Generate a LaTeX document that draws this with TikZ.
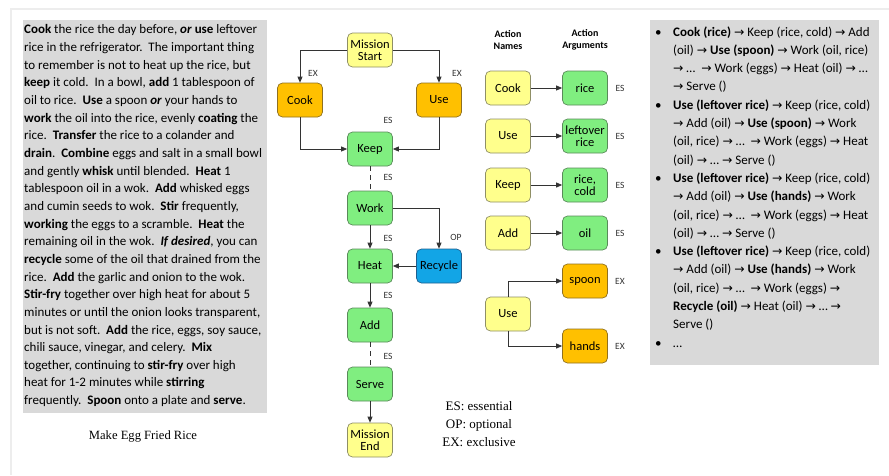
\documentclass[tikz,border=0pt]{standalone}
\usepackage{fontspec}
\setmainfont{Carlito}
\newfontfamily\serifface{Liberation Serif}
\newfontfamily\arrowface{DejaVu Sans}[Scale=0.95]
\usetikzlibrary{arrows.meta}

\definecolor{panelgray}{HTML}{D9D9D9}
\definecolor{nodeyellow}{HTML}{FFFF8C}
\definecolor{yellowedge}{HTML}{8F8F66}
\definecolor{nodeorange}{HTML}{FFC000}
\definecolor{orangeedge}{HTML}{8F7020}
\definecolor{nodegreen}{HTML}{80EE80}
\definecolor{greenedge}{HTML}{5A8A5A}
\definecolor{nodeblue}{HTML}{12A5E6}
\definecolor{blueedge}{HTML}{1F5F8F}

\newcommand\ra{{\arrowface\char"2192}}
\newcommand\bul{\makebox[18pt][l]{\textbullet}}
\newcommand\ind{\hspace*{18pt}}
\newcommand\gap{\ \ }

\begin{document}
\begin{tikzpicture}[x=1pt,y=-1pt,
  box/.style={rounded corners=5pt, minimum width=45pt, minimum height=34pt,
    inner sep=1pt, align=center, font=\fontsize{12.5}{13.5}\selectfont, line width=0.7pt},
  yel/.style={box, fill=nodeyellow, draw=yellowedge},
  org/.style={box, fill=nodeorange, draw=orangeedge},
  grn/.style={box, fill=nodegreen, draw=greenedge},
  blu/.style={box, fill=nodeblue, draw=blueedge},
  link/.style={line width=0.8pt, draw=black!80},
  arr/.style={link, -{Triangle[length=6pt,width=5pt]}},
  dashlink/.style={link, dash pattern=on 5pt off 4pt},
  tag/.style={font=\fontsize{9.5}{10}\selectfont, text=black!80, inner sep=0},
  head/.style={font=\bfseries\fontsize{10}{11.5}\selectfont, align=center, inner sep=0}
]
\useasboundingbox (0,0) rectangle (889,475);

% page edge shadow
\draw[black!7, line width=2pt] (11,475) -- (11,9) -- (889,9);

% ---- recipe text panel (anchored on the baseline of its last line) ----
\fill[panelgray] (23,20) rectangle (267,413);
\node[anchor=base west, align=left, inner sep=0,
      font=\fontsize{13}{17.65}\selectfont] (recipe) at (24,404.6) {%
\textbf{Cook} the rice the day before, \textbf{\textit{or}} \textbf{use} leftover\\
rice in the refrigerator.\gap The important thing\\
to remember is not to heat up the rice, but\\
\textbf{keep} it cold.\gap In a bowl, \textbf{add} 1 tablespoon of\\
oil to rice.\gap \textbf{Use} a spoon \textbf{\textit{or}} your hands to\\
\textbf{work} the oil into the rice, evenly \textbf{coating} the\\
rice.\gap \textbf{Transfer} the rice to a colander and\\
\textbf{drain}.\gap \textbf{Combine} eggs and salt in a small bowl\\
and gently \textbf{whisk} until blended.\gap \textbf{Heat} 1\\
tablespoon oil in a wok.\gap \textbf{Add} whisked eggs\\
and cumin seeds to wok.\gap \textbf{Stir} frequently,\\
\textbf{working} the eggs to a scramble.\gap \textbf{Heat} the\\
remaining oil in the wok.\gap \textbf{\textit{If desired}}, you can\\
\textbf{recycle} some of the oil that drained from the\\
rice.\gap \textbf{Add} the garlic and onion to the wok.\\
\textbf{Stir-fry} together over high heat for about 5\\
minutes or until the onion looks transparent,\\
but is not soft.\gap \textbf{Add} the rice, eggs, soy sauce,\\
chili sauce, vinegar, and celery.\gap \textbf{Mix}\\
together, continuing to \textbf{stir-fry} over high\\
heat for 1-2 minutes while \textbf{stirring}\\
frequently.\gap \textbf{Spoon} onto a plate and \textbf{serve}.};
\node[font=\serifface\fontsize{12.6}{14}\selectfont] (caption) at (143,436) {Make Egg Fried Rice};

% ---- mission flow ----
\node[yel] (ms) at (370,50) {Mission\\[-2pt]Start};
\node[org] (cook) at (300,100) {Cook};
\node[org] (use) at (439,100) {Use};
\node[grn] (keep) at (370,149) {Keep};
\node[grn] (work) at (370,208) {Work};
\node[grn] (heat) at (370,266) {Heat};
\node[blu] (rec) at (439,266) {Recycle};
\node[grn] (add) at (370,325) {Add};
\node[grn] (serve) at (370,384) {Serve};
\node[yel] (me) at (370,440) {Mission\\[-2pt]End};

\draw[arr] (ms.west) -| (cook.north);
\draw[arr] (ms.east) -| (use.north);
\draw[arr] (cook.south) |- (keep.west);
\draw[arr] (use.south) |- (keep.east);
\draw[dashlink] (keep) -- (work);
\draw[arr] (work) -- (heat);
\draw[arr] (work.east) -| (rec.north);
\draw[arr] (rec) -- (heat);
\draw[arr] (heat) -- (add);
\draw[dashlink] (add) -- (serve);
\draw[arr] (serve) -- (me);

\node[tag] (t1) at (313,73) {EX};
\node[tag] (t2) at (457,73) {EX};
\node[tag] (t3) at (388,120) {ES};
\node[tag] (t4) at (388,177) {ES};
\node[tag] (t5) at (388,238) {ES};
\node[tag] (t6) at (456,237) {OP};
\node[tag] (t7) at (388,295) {ES};
\node[tag] (t8) at (388,356) {ES};

\node[align=center, inner sep=0, font=\serifface\fontsize{13}{18}\selectfont] (legend) at (479,424)
  {ES: essential\\OP: optional\\EX: exclusive};

% ---- action names and arguments ----
\node[head] (hn) at (508,40) {Action\\Names};
\node[head] (ha) at (585,40) {Action\\Arguments};

\node[yel] (nCook) at (508,88) {Cook};
\node[yel] (nUse) at (508,136) {Use};
\node[yel] (nKeep) at (508,185) {Keep};
\node[yel] (nAdd) at (508,233) {Add};
\node[yel] (nUse2) at (508,314) {Use};

\node[grn] (aRice) at (585,88) {rice};
\node[grn] (aLeft) at (585,136) {leftover\\[-2pt]rice};
\node[grn] (aCold) at (585,185) {rice,\\[-2pt]cold};
\node[grn] (aOil) at (585,233) {oil};
\node[org] (aSpoon) at (585,281) {spoon};
\node[org] (aHands) at (585,346) {hands};

\draw[arr] (nCook) -- (aRice);
\draw[arr] (nUse) -- (aLeft);
\draw[arr] (nKeep) -- (aCold);
\draw[arr] (nAdd) -- (aOil);
\draw[arr] (nUse2.north) |- (aSpoon.west);
\draw[arr] (nUse2.south) |- (aHands.west);

\node[tag] (s1) at (620,88) {ES};
\node[tag] (s2) at (620,136) {ES};
\node[tag] (s3) at (620,185) {ES};
\node[tag] (s4) at (620,233) {ES};
\node[tag] (s5) at (620,281) {EX};
\node[tag] (s6) at (620,346) {EX};

% ---- action sequence panel (anchored on the baseline of its last line) ----
\fill[panelgray] (650,20) rectangle (879,365);
\node[anchor=base west, align=left, inner sep=0,
      font=\fontsize{13}{18.3}\selectfont] (paths) at (655,347.1) {%
\bul\textbf{Cook (rice)} \ra{} Keep (rice, cold) \ra{} Add\\
\ind(oil) \ra{} \textbf{Use (spoon)} \ra{} Work (oil, rice)\\
\ind\ra{} …\ \ \ra{} Work (eggs) \ra{} Heat (oil) \ra{} …\\
\ind\ra{} Serve ()\\
\bul\textbf{Use (leftover rice)} \ra{} Keep (rice, cold)\\
\ind\ra{} Add (oil) \ra{} \textbf{Use (spoon)} \ra{} Work\\
\ind(oil, rice) \ra{} …\ \ \ra{} Work (eggs) \ra{} Heat\\
\ind(oil) \ra{} … \ra{} Serve ()\\
\bul\textbf{Use (leftover rice)} \ra{} Keep (rice, cold)\\
\ind\ra{} Add (oil) \ra{} \textbf{Use (hands)} \ra{} Work\\
\ind(oil, rice) \ra{} …\ \ \ra{} Work (eggs) \ra{} Heat\\
\ind(oil) \ra{} … \ra{} Serve ()\\
\bul\textbf{Use (leftover rice)} \ra{} Keep (rice, cold)\\
\ind\ra{} Add (oil) \ra{} \textbf{Use (hands)} \ra{} Work\\
\ind(oil, rice) \ra{} …\ \ \ra{} Work (eggs) \ra{}\\
\ind\textbf{Recycle (oil)} \ra{} Heat (oil) \ra{} … \ra{}\\
\ind Serve ()\\
\bul…};
\end{tikzpicture}
\end{document}
